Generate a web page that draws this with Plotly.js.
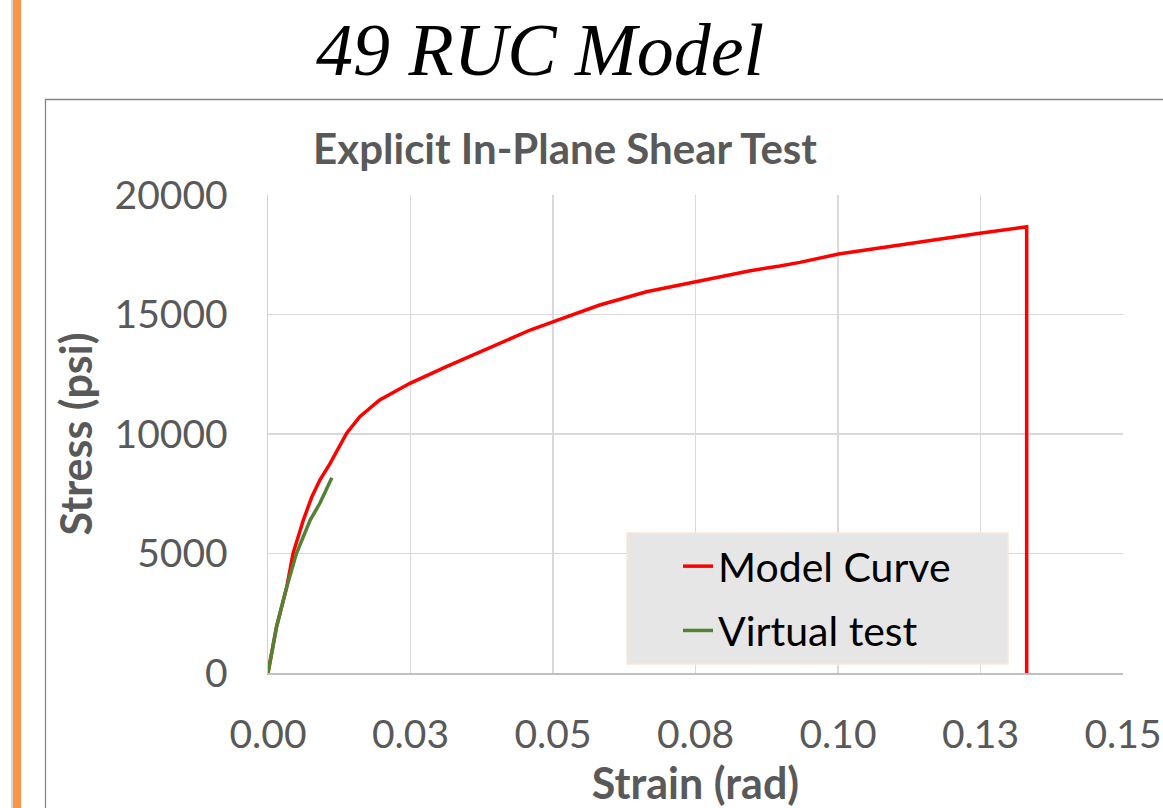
<!DOCTYPE html>
<html>
<head>
<meta charset="utf-8">
<script src="https://cdn.plot.ly/plotly-3.0.1.min.js"></script>
<style>html,body{margin:0;padding:0;background:#fff;}#chart{width:1163px;height:808px;}</style>
</head>
<body>
<div id="chart"></div>
<script>
// ---- data ----
const modelStrain = [0, 0.0015, 0.0033, 0.0044, 0.0062, 0.0077, 0.0091, 0.0109, 0.0138, 0.0161, 0.0196, 0.0249, 0.0313, 0.0372, 0.0407, 0.0460, 0.0501, 0.0582, 0.0664, 0.0752, 0.0846, 0.0898, 0.0933, 0.1001, 0.1132, 0.1249, 0.1331, 0.1331];
const modelStress = [0, 1937, 3611, 5008, 6400, 7377, 8075, 8774, 10030, 10724, 11422, 12121, 12818, 13444, 13794, 14351, 14699, 15397, 15954, 16372, 16833, 17029, 17180, 17531, 18004, 18397, 18674, 0];
const testStrain = [0, 0.0015, 0.0033, 0.0050, 0.0074, 0.0091, 0.0112];
const testStress = [0, 1937, 3611, 5008, 6401, 7100, 8171];
const seriesNames = ["Model Curve", "Virtual test"];
const xTickVals = [0, 0.025, 0.05, 0.075, 0.10, 0.125, 0.15];
const xTickText = ["0.00", "0.03", "0.05", "0.08", "0.10", "0.13", "0.15"];
const yTickVals = [0, 5000, 10000, 15000, 20000];
const slideTitle = "49 RUC Model";
const chartTitle = "Explicit In-Plane Shear Test";
const xTitle = "Strain (rad)";
const yTitle = "Stress (psi)";

// ---- layout helpers (pixel -> paper) ----
const W = 1163, H = 808, L = 268, R = 1123, T = 195, B = 673;
const px = x => (x - L) / (R - L);
const py = y => (B - y) / (B - T);
const FONT = "Lato, 'Open Sans', sans-serif";
const GREY = "#595959";

const traces = [
  {x: modelStrain, y: modelStress, name: seriesNames[0], type: "scatter", mode: "lines",
   line: {color: "#ff0000", width: 3.5}, legendgroup: "a"},
  {x: testStrain, y: testStress, name: seriesNames[1], type: "scatter", mode: "lines",
   line: {color: "#548235", width: 3.5}, legendgroup: "b"}
];

const layout = {
  width: W, height: H,
  margin: {l: L, r: W - R, t: T, b: H - B, pad: 0},
  paper_bgcolor: "#ffffff", plot_bgcolor: "#ffffff",
  font: {family: FONT, color: GREY},
  title: {text: chartTitle, font: {family: FONT, size: 42, color: GREY, weight: "bold"},
          xref: "paper", x: px(565), xanchor: "center", yref: "container", y: 1 - 149 / H, yanchor: "middle"},
  xaxis: {range: [0, 0.15], tickvals: xTickVals, ticktext: xTickText, showgrid: true,
          gridcolor: "#d9d9d9", gridwidth: 1.5, zeroline: false, showline: true, linecolor: "#bfbfbf", linewidth: 1.5,
          ticks: "", tickfont: {family: FONT, size: 39, color: GREY}, ticklabelstandoff: 27,
          title: {text: xTitle, font: {family: FONT, size: 43, color: GREY, weight: "bold"}, standoff: 22},
          fixedrange: true},
  yaxis: {range: [0, 20000], tickvals: yTickVals, tickformat: "d", showgrid: true,
          gridcolor: "#d9d9d9", gridwidth: 1.5, zeroline: false, showline: true, linecolor: "#d0d0d0", linewidth: 1.5,
          ticks: "", tickfont: {family: FONT, size: 39, color: GREY}, ticklabelstandoff: 31,
          title: {text: yTitle, font: {family: FONT, size: 43, color: GREY, weight: "bold"}, standoff: 8},
          fixedrange: true},
  showlegend: true,
  legend: {x: px(678), xanchor: "left", y: py(533), yanchor: "top", bgcolor: "rgba(0,0,0,0)",
           borderwidth: 0, font: {family: FONT, size: 41, color: "#000000"},
           traceorder: "grouped", tracegroupgap: 8, itemwidth: 30},
  shapes: [
    {type: "rect", xref: "paper", yref: "paper", x0: px(11), x1: px(13), y0: py(0), y1: py(H + 5),
     fillcolor: "#d6d6d6", line: {width: 0}, layer: "below"},
    {type: "rect", xref: "paper", yref: "paper", x0: px(13), x1: px(21), y0: py(0), y1: py(H + 5),
     fillcolor: "#f79646", line: {width: 0}, layer: "below"},
    {type: "rect", xref: "paper", yref: "paper", x0: px(45.5), x1: px(W + 20), y0: py(99.5), y1: py(H + 20),
     fillcolor: "rgba(0,0,0,0)", line: {color: "#868686", width: 1.3}, layer: "below"},
    {type: "rect", xref: "paper", yref: "paper", x0: px(627), x1: px(1008), y0: py(533), y1: py(664),
     fillcolor: "#e7e6e6", line: {color: "#fbe5d6", width: 1.5}, layer: "above"}
  ],
  annotations: [
    {text: "<i>" + slideTitle + "</i>", xref: "paper", yref: "paper", x: px(540), y: py(50),
     xanchor: "center", yanchor: "middle", showarrow: false,
     font: {family: "'Liberation Serif', 'DejaVu Serif', serif", size: 74, color: "#000000"}}
  ]
};

Plotly.newPlot("chart", traces, layout, {displayModeBar: false, staticPlot: true});
</script>
</body>
</html>
